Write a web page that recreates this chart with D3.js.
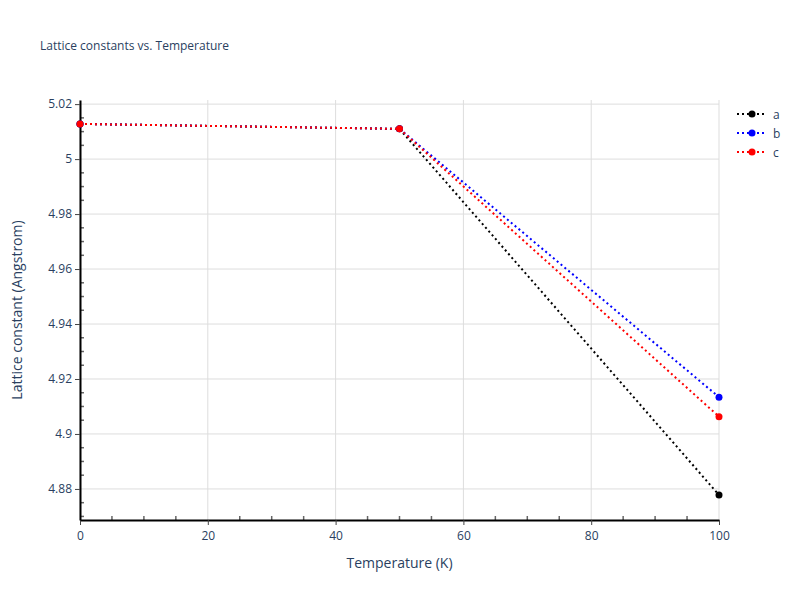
<!DOCTYPE html><html><head><script src="https://cdn.jsdelivr.net/npm/d3@7"></script>
<style>body{margin:0;background:#fff}text{font-family:"Open Sans",Arial,sans-serif}</style></head><body>
<svg id="c" width="800" height="600"></svg>
<script>
const temps=[0,50,100];
const seriesA=[5.0128,5.0110,4.8778];
const seriesB=[5.0128,5.0110,4.9134];
const seriesC=[5.0128,5.0110,4.9063];
const names=["a","b","c"], colors=["black","blue","red"];
const xTicks=[0,20,40,60,80,100];
const yTicks=[4.88,4.9,4.92,4.94,4.96,4.98,5,5.02];
const svg=d3.select("#c");
const L=80,R=719,T=100,B=520;
const x=d3.scaleLinear().domain([0,100]).range([L,R]);
const y=d3.scaleLinear().domain([4.8687,5.0215]).range([B,T]);
svg.append("g").selectAll("line").data(xTicks).join("line").attr("x1",x).attr("x2",x).attr("y1",T).attr("y2",B).attr("stroke","#ddd");
svg.append("g").selectAll("line").data(yTicks).join("line").attr("y1",y).attr("y2",y).attr("x1",L).attr("x2",R).attr("stroke","#ddd");
const xm=d3.range(5,100,5).filter(v=>v%20);
svg.append("g").selectAll("line").data(xm).join("line").attr("x1",x).attr("x2",x).attr("y1",B).attr("y2",B-4).attr("stroke","#666").attr("stroke-width",1.5);
const ym=d3.range(4.87,5.021,0.005).filter(v=>Math.abs(Math.round(v/0.02)*0.02-v)>1e-6);
svg.append("g").selectAll("line").data(ym).join("line").attr("y1",y).attr("y2",y).attr("x1",L).attr("x2",L+4).attr("stroke","#666").attr("stroke-width",1.5);
const gx=svg.append("g").attr("transform",`translate(0,${B})`).call(d3.axisBottom(x).tickValues(xTicks).tickSize(5).tickSizeOuter(0).tickPadding(6));
const gy=svg.append("g").attr("transform",`translate(${L},0)`).call(d3.axisLeft(y).tickValues(yTicks).tickFormat(d=>d3.format("~g")(d)).tickSize(5).tickSizeOuter(0).tickPadding(3));
[gx,gy].forEach(g=>{g.select(".domain").attr("stroke","black").attr("stroke-width",2);g.selectAll("text").attr("font-size",12).attr("fill","#2a3f5f");g.selectAll(".tick line").attr("stroke","#444");});
const all=[seriesA,seriesB,seriesC];
const line=d3.line().x((d,i)=>x(temps[i])).y(d=>y(d));
all.forEach((s,k)=>{
  svg.append("path").datum(s).attr("d",line).attr("fill","none").attr("stroke",colors[k]).attr("stroke-width",2).attr("stroke-dasharray","2,3");
  svg.append("g").selectAll("circle").data(s).join("circle").attr("cx",(d,i)=>x(temps[i])).attr("cy",y).attr("r",3.5).attr("fill",colors[k]);
});
names.forEach((n,k)=>{
  const g=svg.append("g").attr("transform",`translate(737,${114+k*19})`);
  g.append("line").attr("x1",0).attr("x2",30).attr("stroke",colors[k]).attr("stroke-width",2).attr("stroke-dasharray","2,3");
  g.append("circle").attr("cx",15).attr("r",3.5).attr("fill",colors[k]);
  g.append("text").attr("x",36).attr("y",4.5).attr("font-size",12).attr("fill","#2a3f5f").text(n);
});
svg.append("text").attr("x",40).attr("y",50).attr("font-size",12).attr("fill","#2a3f5f").text("Lattice constants vs. Temperature");
svg.append("text").attr("x",(L+R)/2).attr("y",568).attr("text-anchor","middle").attr("font-size",14).attr("fill","#2a3f5f").text("Temperature (K)");
svg.append("text").attr("transform",`translate(22,${(T+B)/2}) rotate(-90)`).attr("text-anchor","middle").attr("font-size",14).attr("fill","#2a3f5f").text("Lattice constant (Angstrom)");
</script></body></html>
